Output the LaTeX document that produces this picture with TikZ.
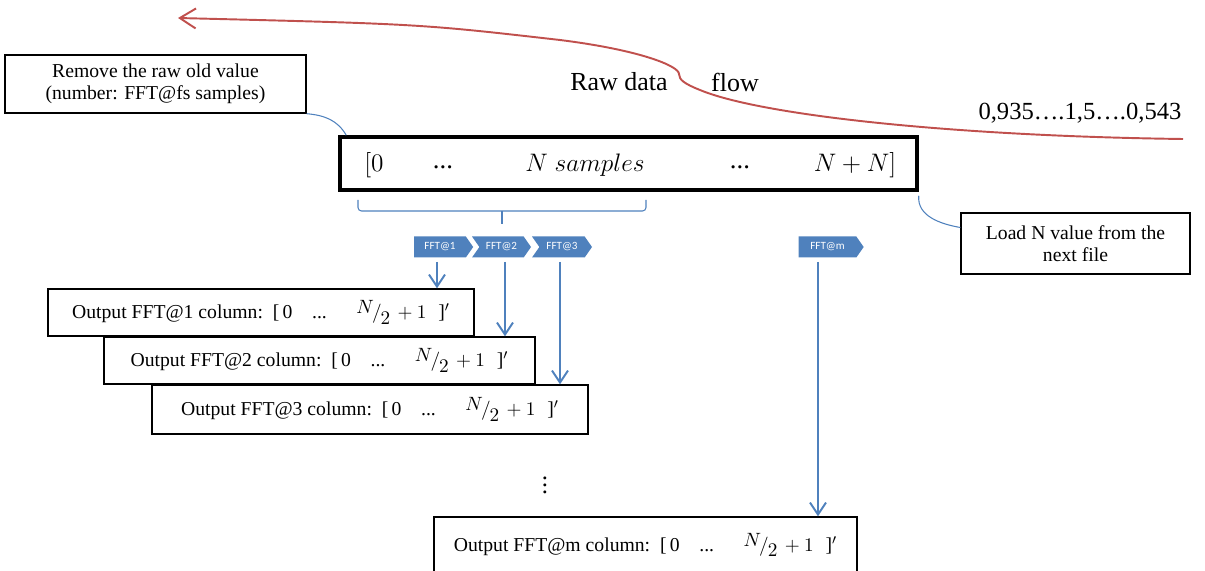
\documentclass[tikz,border=0pt]{standalone}
\usepackage{fontspec}
\setmainfont{Liberation Serif}
\newfontfamily\chevfont{Carlito}
\usetikzlibrary{arrows.meta,positioning,shapes.symbols,calc}
\definecolor{Flow}{HTML}{C0504D}
\definecolor{Office}{HTML}{4F81BD}
\newlength{\bpx}\setlength{\bpx}{0.02cm}
\newcommand{\halfN}{\raisebox{0.55ex}{$N$}\kern-0.1em$\big/$\kern-0.05em\raisebox{-0.6ex}{$2$}$\,{}+1$}

\begin{document}
\begin{tikzpicture}[x=0.02cm,y=-0.02cm,font=\fontsize{11.2}{12.5}\selectfont,
  outbox/.style={draw,fill=white,line width=0.8pt,inner sep=0pt},
  fftchev/.style={signal,signal to=east,signal pointer angle=110,fill=Office,text=white,
    font=\chevfont\fontsize{6.3}{7}\selectfont,minimum height=21\bpx,inner sep=1pt},
  bluearrow/.style={draw=Office,line width=1.1pt,-{Straight Barb[length=2.4mm,width=3.2mm]}},
  callout/.style={draw=Office,line width=0.6pt},
  bigtext/.style={font=\fontsize{14}{16}\selectfont},
  buftext/.style={font=\fontsize{15.2}{17}\selectfont}]
  \useasboundingbox (0,0) rectangle (1205,571);

  % raw data flow
  \coordinate (flowstart) at (1183,139);
  \coordinate (flowtip) at (178,18);
  \draw[Flow,line width=1.1pt,-{Straight Barb[length=3.2mm,width=4mm]}] (flowstart)
    .. controls (950,136) and (760,115) .. (700,90)
    .. controls (685,84) and (679,80) .. (679,74)
    .. controls (679,66) and (640,50) .. (560,40)
    .. controls (420,24) .. (flowtip);
  \node[font=\fontsize{14.8}{16}\selectfont] (rawlbl) at (619,82) {Raw data};
  \node[font=\fontsize{14.8}{16}\selectfont] (flowlbl) at (735,82) {flow};
  \node[bigtext] (vals) at (1080,113) {0,935….1,5….0,543};

  % buffer
  \node[outbox,minimum width=301\bpx,minimum height=58\bpx] (rmbox) at (155.5,84) {\raisebox{-5pt}{\begin{tabular}{@{}c@{}}Remove the raw old value\\(number: FFT@fs samples)\end{tabular}}};
  \node[outbox,line width=2pt,minimum width=577\bpx,minimum height=53\bpx] (mainbox) at (628.5,163.5) {};
  \node[buftext] (first) at (374,165) {$[0$};
  \node[buftext] (dots1) at (443,167) {...};
  \node[buftext] (nsamp) at (585,165) {$N\ samples$};
  \node[buftext] (dots2) at (740,167) {...};
  \node[buftext] (last) at (855,165) {$N+N]$};
  \node[outbox,align=center,minimum width=229\bpx,minimum height=61\bpx] (loadbox) at (1075.5,243.5) {Load N value from the\\next file};
  \draw[callout] (rmbox.south east) to[out=-5,in=120] ([xshift=8\bpx]mainbox.north west);
  \draw[callout] ([yshift=-4\bpx]mainbox.south east) to[out=-95,in=170] ([yshift=16\bpx]loadbox.west);
  \draw[callout,rounded corners=2pt] (358,200) |- (646,211) -- (646,200);
  \draw[callout] (502,211) -- (502,224);

  % fft windows
  \node[fftchev,minimum width=59\bpx] (fft1) at (440,247) {FFT@1};
  \node[fftchev,signal from=west,minimum width=59\bpx] (fft2) at (501.5,247) {FFT@2};
  \node[fftchev,signal from=west,minimum width=60\bpx] (fft3) at (562,247) {FFT@3};
  \node[fftchev,minimum width=65\bpx] (fftm) at (827.5,247) {FFT@m};

  % outputs
  \node[outbox,minimum width=426\bpx,minimum height=47\bpx] (out1) at (261,312.5) {Output FFT@1 column:\ \ [\,0\hspace{1em}...\hspace{1.5em}\halfN\hspace{0.6em}]$'$};
  \node[outbox,minimum width=431\bpx,minimum height=47\bpx] (out2) at (319.5,360.5) {Output FFT@2 column:\ \ [\,0\hspace{1em}...\hspace{1.5em}\halfN\hspace{0.6em}]$'$};
  \node[outbox,minimum width=436\bpx,minimum height=49\bpx] (out3) at (370,409.5) {Output FFT@3 column:\ \ [\,0\hspace{1em}...\hspace{1.5em}\halfN\hspace{0.6em}]$'$};
  \node[font=\fontsize{14}{16}\selectfont] (vdots) at (545,480) {$\vdots$};
  \node[outbox,minimum width=423\bpx,minimum height=56\bpx] (outm) at (645.5,545) {Output FFT@m column:\ \ [\,0\hspace{1em}...\hspace{1.5em}\halfN\hspace{0.6em}]$'$};

  \draw[bluearrow] ([xshift=-3\bpx,yshift=-4\bpx]fft1.south) -- ([xshift=-3\bpx]fft1.south |- out1.north);
  \draw[bluearrow] ([xshift=3.5\bpx,yshift=-4\bpx]fft2.south) -- ([xshift=3.5\bpx]fft2.south |- out2.north);
  \draw[bluearrow] ([xshift=-2\bpx,yshift=-4\bpx]fft3.south) -- ([xshift=-2\bpx]fft3.south |- out3.north);
  \draw[bluearrow] ([xshift=-9.5\bpx,yshift=-4\bpx]fftm.south) -- ([xshift=-9.5\bpx]fftm.south |- outm.north);
\end{tikzpicture}
\end{document}
